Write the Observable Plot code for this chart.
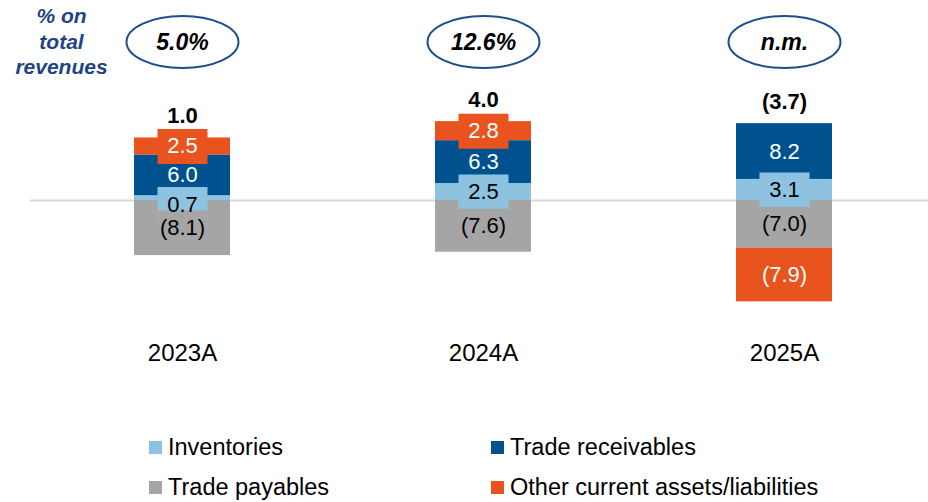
<!DOCTYPE html>
<html>
<head>
<meta charset="utf-8">
<script src="https://cdn.jsdelivr.net/npm/d3@7"></script>
<script src="https://cdn.jsdelivr.net/npm/@observablehq/plot@0.6"></script>
<style>
  html, body { margin: 0; padding: 0; background: #fff; }
  #wrap { position: relative; width: 928px; height: 502px; overflow: hidden; font-family: "Liberation Sans", Arial, sans-serif; }
  #legend { position: absolute; left: 0; top: 410px; width: 928px; height: 92px; }
  .item { position: absolute; display: flex; align-items: center; font-size: 23.5px; color: #000; white-space: nowrap; height: 30px; }
  .sw { width: 13px; height: 13px; margin-right: 6px; flex: none; }
</style>
</head>
<body>
<div id="wrap">
  <div id="chart"></div>
  <div id="legend"></div>
</div>
<script>
// ---- data ----
const years = ["2023A", "2024A", "2025A"];
const seriesNames = ["Inventories", "Trade receivables", "Trade payables", "Other current assets/liabilities"];
const inventories = [0.7, 2.5, 3.1];
const tradeReceivables = [6.0, 6.3, 8.2];
const tradePayables = [-8.1, -7.6, -7.0];
const otherCurrent = [2.5, 2.8, -7.9];
const totals = [1.0, 4.0, -3.7];
const pctOnRevenues = ["5.0%", "12.6%", "n.m."];

// ---- styles ----
const colors = ["#8DC3E0", "#00528F", "#A5A5A5", "#E8531E"];
const darkText = [false, true, false, true];
const fmt = v => v < 0 ? `(${Math.abs(v).toFixed(1)})` : v.toFixed(1);

// ---- build stacked table ----
const seriesValues = [inventories, tradeReceivables, tradePayables, otherCurrent];
const rows = [];
const tops = [];
years.forEach((year, i) => {
  let pos = 0, neg = 0;
  seriesValues.forEach((vals, s) => {
    const v = vals[i];
    let y1, y2;
    if (v >= 0) { y1 = pos; y2 = pos + v; pos = y2; }
    else { y1 = neg; y2 = neg + v; neg = y2; }
    let ly = (y1 + y2) / 2;
    if (Math.abs(v) < 1.5) ly = y1 + (v >= 0 ? -0.6 : 0.6);
    rows.push({year, s, series: seriesNames[s], value: v, y1, y2, ly, label: fmt(v), white: darkText[s]});
  });
  tops.push({year, top: pos, label: fmt(totals[i])});
});
const pctRows = years.map((year, i) => ({year, pct: pctOnRevenues[i]}));

// label boxes drawn in order: receivables, inventories, payables, other
const boxOrder = [1, 0, 2, 3];
const boxRows = boxOrder.flatMap(s => rows.filter(r => r.s === s));

const rectSymbol = { draw(ctx) { ctx.rect(-25, -17.5, 50, 35); } };
const ellipseSymbol = {
  draw(ctx) {
    const rx = 56, ry = 26, k = 0.5523;
    ctx.moveTo(rx, 0);
    ctx.bezierCurveTo(rx, k * ry, k * rx, ry, 0, ry);
    ctx.bezierCurveTo(-k * rx, ry, -rx, k * ry, -rx, 0);
    ctx.bezierCurveTo(-rx, -k * ry, -k * rx, -ry, 0, -ry);
    ctx.bezierCurveTo(k * rx, -ry, rx, -k * ry, rx, 0);
    ctx.closePath();
  }
};

const chart = Plot.plot({
  width: 928,
  height: 410,
  marginLeft: 30,
  marginRight: 0,
  marginTop: 0,
  marginBottom: 75,
  style: { fontFamily: "'Liberation Sans', Arial, sans-serif", color: "#000", background: "#fff" },
  x: { type: "band", domain: years, range: [133, 833], paddingInner: 0.682, paddingOuter: 0, label: null },
  y: { domain: [-19.85, 29.41], axis: null },
  color: { domain: seriesNames, range: colors },
  marks: [
    Plot.ruleY([0], { stroke: "#D9D9D9", strokeWidth: 2 }),
    Plot.barY(rows, { x: "year", y1: "y1", y2: "y2", fill: "series" }),
    Plot.dot(boxRows, { x: "year", y: "ly", symbol: rectSymbol, fill: "series", r: 5 }),
    Plot.text(rows.filter(d => d.white), { x: "year", y: "ly", text: "label", fill: "#fff", fontSize: 22 }),
    Plot.text(rows.filter(d => !d.white), { x: "year", y: "ly", text: "label", fill: "#000", fontSize: 22 }),
    Plot.text(tops, { x: "year", y: "top", text: "label", dy: -22, fontSize: 22, fontWeight: "bold", fill: "#000" }),
    Plot.dot(pctRows, { x: "year", frameAnchor: "top", dy: 41.5, symbol: ellipseSymbol, r: 5, fill: "#fff", stroke: "#1F4E8C", strokeWidth: 2 }),
    Plot.text(pctRows, { x: "year", frameAnchor: "top", dy: 42, lineAnchor: "middle", text: "pct", fontSize: 23, fontWeight: "bold", fontStyle: "italic", fill: "#000" }),
    Plot.text(["% on\ntotal\nrevenues"], { frameAnchor: "top-left", lineAnchor: "top", dx: 31, dy: 5, textAnchor: "middle", lineHeight: 1.2, fontSize: 21, fontWeight: "bold", fontStyle: "italic", fill: "#1F4484" }),
    Plot.axisX({ anchor: "bottom", tickSize: 0, tickPadding: 8, fontSize: 24, label: null })
  ]
});
document.getElementById("chart").appendChild(chart);

// ---- legend ----
const legendPos = [
  { left: 149, top: 432 - 410 },
  { left: 491, top: 432 - 410 },
  { left: 149, top: 472 - 410 },
  { left: 491, top: 472 - 410 }
];
const legend = document.getElementById("legend");
seriesNames.forEach((name, s) => {
  const item = document.createElement("div");
  item.className = "item";
  item.style.left = legendPos[s].left + "px";
  item.style.top = legendPos[s].top + "px";
  const sw = document.createElement("span");
  sw.className = "sw";
  sw.style.background = colors[s];
  const tx = document.createElement("span");
  tx.textContent = name;
  item.appendChild(sw);
  item.appendChild(tx);
  legend.appendChild(item);
});
</script>
</body>
</html>
